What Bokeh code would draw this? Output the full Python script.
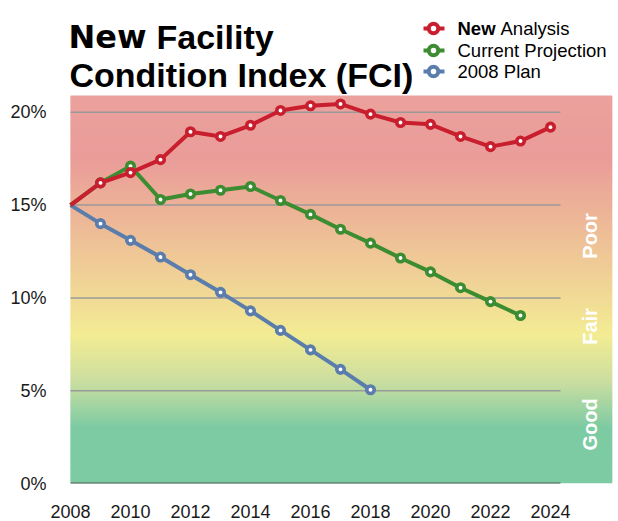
import numpy as np
from bokeh.plotting import figure
from bokeh.models import FixedTicker, PrintfTickFormatter, Range1d
from bokeh.core.properties import value
from bokeh.embed import file_html
from bokeh.resources import INLINE

# ---------------- data ----------------
years_new = list(range(2008, 2025))
new_analysis = [15.0, 16.2, 16.75, 17.45, 18.95, 18.7, 19.3, 20.1, 20.35, 20.45,
                19.9, 19.45, 19.35, 18.7, 18.15, 18.45, 19.2]
years_current = list(range(2008, 2024))
current_projection = [15.0, 16.2, 17.1, 15.3, 15.6, 15.8, 16.0, 15.25, 14.5, 13.7,
                      12.95, 12.15, 11.4, 10.55, 9.8, 9.05]
years_plan = list(range(2008, 2019))
plan_2008 = [15.0, 14.0, 13.1, 12.2, 11.25, 10.3, 9.3, 8.25, 7.2, 6.15, 5.05]

x_ticks = list(range(2008, 2025, 2))
y_ticks = [0, 5, 10, 15, 20]
series_names = ["Analysis", "Current Projection", "2008 Plan"]
zone_labels = ["Poor", "Fair", "Good"]
zone_centers = [13.34, 8.46, 3.18]

RED = "#C81E2D"
GREEN = "#3C8C32"
BLUE = "#5A7DAC"
FONT = "Liberation Sans"

# pixel helpers for non-data decorations (title / legend placement)
PX_PER_YEAR = 30.0
PX_PER_PCT = 18.56
def fx(px):
    return 2008 + (px - 70) / PX_PER_YEAR
def fy(py):
    return (483 - py) / PX_PER_PCT

# ---------------- figure ----------------
W, H = 614, 521
p = figure(width=W, height=H, output_backend="svg", toolbar_location=None,
           x_range=Range1d(fx(62), fx(612)), y_range=Range1d(0, fy(0)),
           min_border_left=62, min_border_right=2, min_border_top=0,
           min_border_bottom=38)
p.outline_line_color = None
p.xgrid.visible = False
p.ygrid.visible = False
p.background_fill_color = "white"
p.border_fill_color = "white"

# ---------------- gradient background ----------------
bg_top = fy(95)
stops_y = [0.0, 3.0, 5.5, 8.0, 11.0, 14.0, 17.5, bg_top]
stops_c = np.array([
    (125, 203, 163), (125, 203, 163), (203, 222, 160), (243, 236, 147),
    (240, 210, 150), (237, 185, 151), (234, 156, 153), (235, 161, 157)], float)
n = 180
edges = np.linspace(0, bg_top, n + 1)
mids = (edges[:-1] + edges[1:]) / 2
cols = []
for m in mids:
    rgb = [np.interp(m, stops_y, stops_c[:, k]) for k in range(3)]
    cols.append("#%02x%02x%02x" % tuple(int(round(v)) for v in rgb))
step = edges[1] - edges[0]
tops = np.minimum(edges[1:] + step * 0.6, bg_top)
p.quad(left=2008, right=fx(612), bottom=edges[:-1], top=tops,
       fill_color=cols, line_color=None)

# gridlines and base line
grid_end = years_new[-1] + 1/3
p.segment(x0=2008, x1=grid_end, y0=y_ticks[1:], y1=y_ticks[1:],
          line_color="#9a9a9a", line_width=1.5)
p.segment(x0=2008, x1=grid_end, y0=0, y1=0, line_color="#4b5f55", line_width=2)

# zone labels
p.text(x=fx(589), y=zone_centers, text=zone_labels, angle=np.pi / 2,
       text_align="center", text_baseline="middle", text_color="white",
       text_font=value(FONT), text_font_style="bold", text_font_size="20px")

# ---------------- series ----------------
for xs, ys, c in [(years_plan, plan_2008, BLUE),
                  (years_current, current_projection, GREEN),
                  (years_new, new_analysis, RED)]:
    p.line(xs, ys, line_color=c, line_width=4, line_join="round")
    p.scatter(xs[1:], ys[1:], size=7.5, marker="circle", fill_color="white",
              line_color=c, line_width=3.6)

# ---------------- axes ----------------
p.xaxis.ticker = FixedTicker(ticks=x_ticks)
p.yaxis.ticker = FixedTicker(ticks=y_ticks)
p.yaxis.formatter = PrintfTickFormatter(format="%d%%")
for ax in (p.xaxis, p.yaxis):
    ax.axis_line_color = None
    ax.major_tick_line_color = None
    ax.minor_tick_line_color = None
    ax.major_label_text_font = FONT
    ax.major_label_text_font_size = "18px"
    ax.major_label_text_color = "#1a1a1a"
p.xaxis.major_label_standoff = 15
p.yaxis.major_label_standoff = 10

# ---------------- title ----------------
p.text(x=fx(68), y=fy(36), text=["New"], text_font=value("DejaVu Sans"),
       text_font_style="bold", text_font_size="32px", text_color="black",
       text_baseline="alphabetic")
p.text(x=fx(156), y=fy(36), text=["Facility"], text_font=value(FONT),
       text_font_style="bold", text_font_size="34px", text_color="black",
       text_baseline="alphabetic")
p.text(x=fx(69), y=fy(74), text=["Condition Index (FCI)"], text_font=value(FONT),
       text_font_style="bold", text_font_size="34px", text_color="black",
       text_baseline="alphabetic")

# ---------------- legend ----------------
leg_y = [fy(28), fy(50), fy(71)]
leg_cols = [RED, GREEN, BLUE]
p.segment(x0=fx(423), x1=fx(444), y0=leg_y, y1=leg_y,
          line_color=leg_cols, line_width=4)
p.scatter(x=[fx(433)] * 3, y=leg_y, size=9.5, marker="circle",
          fill_color="white", line_color=leg_cols, line_width=4)
p.text(x=fx(457), y=leg_y[0], text=["New"], text_font=value(FONT),
       text_font_style="bold", text_font_size="18.5px", text_color="black",
       text_baseline="middle")
p.text(x=fx(500), y=leg_y[0], text=[series_names[0]], text_font=value(FONT),
       text_font_size="18.5px", text_color="black", text_baseline="middle")
p.text(x=fx(457), y=leg_y[1:], text=series_names[1:], text_font=value(FONT),
       text_font_size="18.5px", text_color="black", text_baseline="middle")

open("out.html", "w").write(file_html(p, INLINE))
